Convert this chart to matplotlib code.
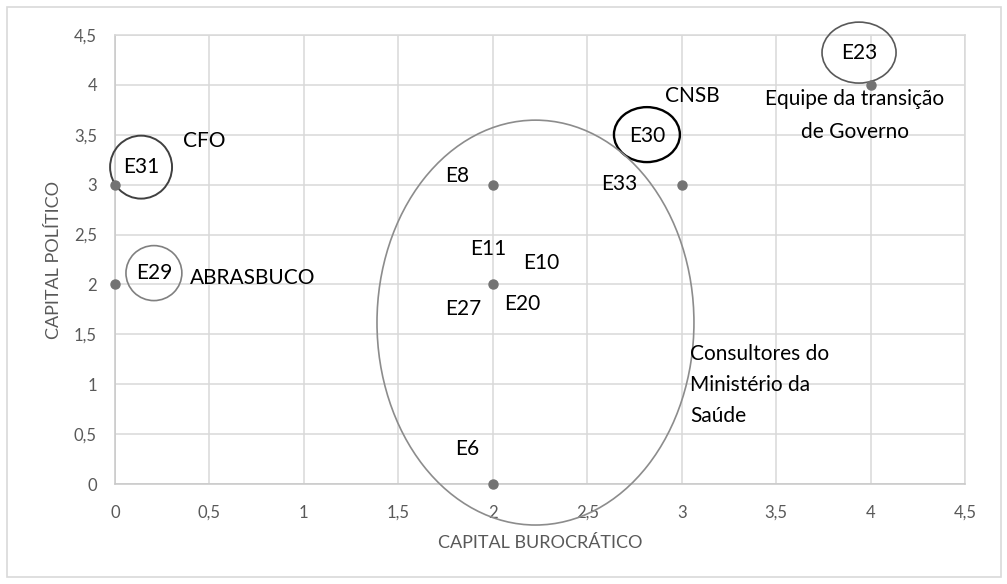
import matplotlib
matplotlib.use('Agg')
import matplotlib.pyplot as plt
from matplotlib.patches import Ellipse, Rectangle
from matplotlib.ticker import FuncFormatter

# pontos (capital burocrático, capital político)
pts_x = [0, 0, 2, 2, 2, 3, 4]
pts_y = [3, 2, 3, 2, 0, 3, 4]

# rótulos
lab_txt = ['E31', 'CFO', 'E29', 'ABRASBUCO', 'E8', 'E11', 'E10', 'E27', 'E20',
           'E33', 'E30', 'CNSB', 'E23', 'E6']
lab_x = [0.138, 0.471, 0.206, 0.731, 1.810, 1.975, 2.255, 1.842, 2.155,
         2.668, 2.816, 3.055, 3.939, 1.863]
lab_y = [3.176, 3.437, 2.114, 2.064, 3.086, 2.355, 2.214, 1.753, 1.804,
         3.006, 3.487, 3.888, 4.319, 0.351]

group_txt = ['Equipe da transição\nde Governo', 'Consultores do\nMinistério da\nSaúde']
group_x = [3.917, 3.044]
group_y = [3.692, 0.992]
group_ha = ['center', 'left']
group_ls = [1.8, 1.7]

# elipses (centro x, centro y, largura, altura)
ell_x = [0.138, 0.206, 2.816, 3.939, 2.226]
ell_y = [3.176, 2.114, 3.502, 4.324, 1.618]
ell_w = [0.328, 0.296, 0.349, 0.392, 1.678]
ell_h = [0.631, 0.551, 0.551, 0.611, 4.058]
ell_col = ['#404040', '#808080', '#000000', '#595959', '#8c8c8c']
ell_lw = [1.4, 1.2, 1.7, 1.2, 1.2]

ticks = [0, 0.5, 1, 1.5, 2, 2.5, 3, 3.5, 4, 4.5]

plt.rcParams['font.family'] = ['Lato', 'DejaVu Sans']

fig = plt.figure(figsize=(10.07, 5.84), dpi=100)
ax = fig.add_axes([0.1142, 0.1712, 0.8441, 0.7688])

ax.set_xlim(0, 4.5)
ax.set_ylim(0, 4.5)
ax.set_xticks(ticks)
ax.set_yticks(ticks)
fmt = FuncFormatter(lambda v, p: ('%g' % v).replace('.', ','))
ax.xaxis.set_major_formatter(fmt)
ax.yaxis.set_major_formatter(fmt)
ax.tick_params(length=0, labelsize=12, labelcolor='#595959')
ax.tick_params(axis='x', pad=15)
ax.tick_params(axis='y', pad=13)
ax.grid(color='#d9d9d9', lw=1.1, zorder=0)
ax.set_axisbelow(True)
for s in ax.spines.values():
    s.set_color('#d9d9d9')
    s.set_linewidth(1.1)
ax.spines['left'].set_color('#c8c8c8')
ax.spines['bottom'].set_color('#c8c8c8')

ax.set_xlabel('CAPITAL BUROCRÁTICO', fontsize=13, color='#595959', va='center')
ax.set_ylabel('CAPITAL POLÍTICO', fontsize=13, color='#595959', va='center')
ax.xaxis.set_label_coords(0.5, -0.131)
ax.yaxis.set_label_coords(-0.0718, 0.5)

ax.plot(pts_x, pts_y, 'o', color='#737373', ms=6.5, ls='none', zorder=4, clip_on=False)

for cx, cy, w, h, c, lw in zip(ell_x, ell_y, ell_w, ell_h, ell_col, ell_lw):
    ax.add_patch(Ellipse((cx, cy), w, h, fill=False, ec=c, lw=lw, zorder=3, clip_on=False))

for t, x, y in zip(lab_txt, lab_x, lab_y):
    ax.text(x, y, t, fontsize=15, ha='center', va='center', color='black', zorder=5)

for t, x, y, ha, ls in zip(group_txt, group_x, group_y, group_ha, group_ls):
    ax.text(x, y, t, fontsize=15, ha=ha, va='center', multialignment=ha,
            linespacing=ls, color='black', zorder=5)

fig.patches.append(Rectangle((7 / 1007, 7 / 584), 994 / 1007, 570 / 584,
                             transform=fig.transFigure, fill=False,
                             ec='#d9d9d9', lw=1.2))

fig.savefig('out.png', dpi=100)
